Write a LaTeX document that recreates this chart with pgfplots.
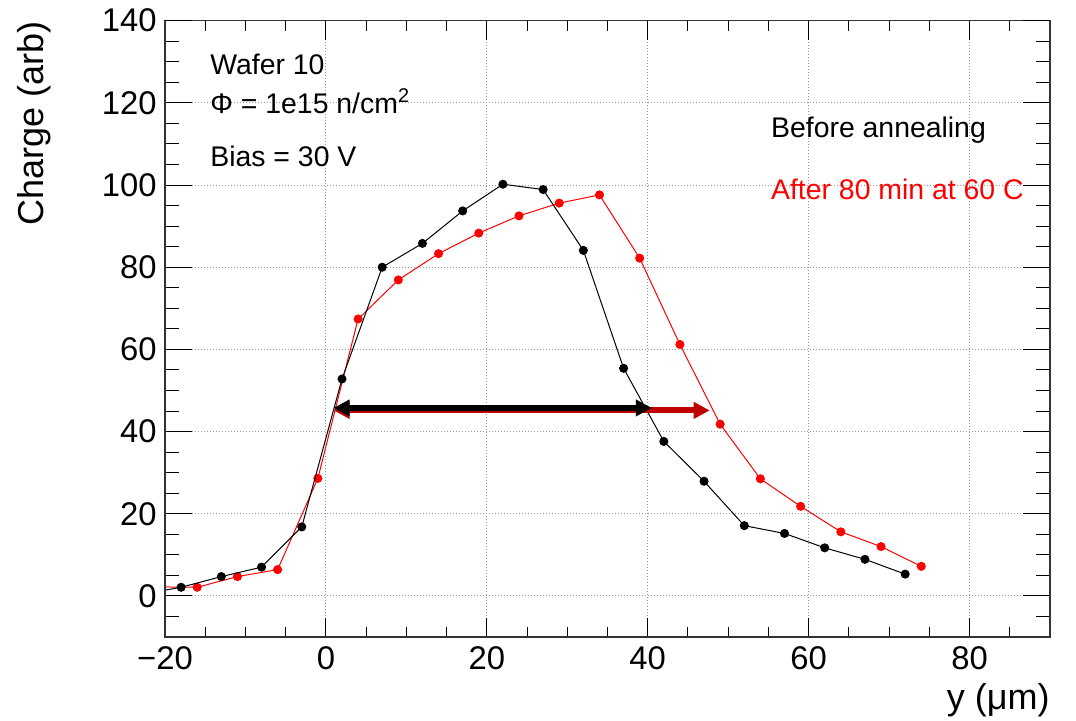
\documentclass[border=0pt]{standalone}
\usepackage{fontspec}
\setmainfont{Liberation Sans}
\usepackage{pgfplots}
\pgfplotsset{compat=1.18}
\usetikzlibrary{arrows.meta}
\definecolor{darkred}{RGB}{190,0,0}
\begin{document}
\begin{tikzpicture}
\useasboundingbox (0,0) rectangle (538pt,360.5pt);
\begin{axis}[name=ax, at={(82.5pt,42pt)}, anchor=south west,
  scale only axis, width=442.5pt, height=308.15pt,
  xmin=-20, xmax=90, ymin=-10, ymax=140,
  xtick={-20,0,20,40,60,80}, xticklabels={−20,0,20,40,60,80},
  minor xtick={-15,-10,...,85},
  ytick={0,20,...,140}, yticklabels={0,20,40,60,80,100,120,140},
  minor ytick={-5,0,...,135},
  grid=major, grid style={dash pattern=on 0.5pt off 1pt, gray!80, line width=0.5pt},
  major tick length=9.5pt, minor tick length=5pt,
  tick style={black, line width=0.5pt},
  axis line style={line width=0.6pt, black!80},
  ticklabel style={font=\fontsize{16.4}{18}\selectfont},
  xticklabel style={inner sep=0pt, yshift=-4.8pt, anchor=north},
  yticklabel style={inner sep=0pt, xshift=-4pt, anchor=east},
  clip mode=individual]
\addplot[red, line width=0.5pt, mark=*, mark size=2pt, mark options={solid, fill=red, draw=red}] coordinates {
(-21,2.2) (-16,2.1) (-11,4.7) (-6,6.4) (-1,28.6) (4,67.4) (9,76.9) (14,83.3) (19,88.3) (24,92.5) (29,95.6) (34,97.6) (39,82.2) (44,61.2) (49,41.8) (54,28.5) (59,21.8) (64,15.6) (69,12.0) (74,7.2)};
\addplot[black, line width=0.5pt, mark=*, mark size=2pt, mark options={solid, fill=black, draw=black}] coordinates {
(-23,0.35) (-18,2.1) (-13,4.7) (-8,7.0) (-3,16.8) (2,52.8) (7,80.0) (12,85.8) (17,93.7) (22,100.2) (27,98.9) (32,84.1) (37,55.4) (42,37.6) (47,27.9) (52,17.1) (57,15.2) (62,11.7) (67,8.9) (72,5.3)};
\addplot[darkred, line width=3pt, no marks, arrows={Triangle[length=8pt,width=8pt]-Triangle[length=8pt,width=8pt]}] coordinates {(0.96,45.15) (47.7,45.15)};
\addplot[black, line width=3pt, no marks, arrows={Triangle[length=8pt,width=8pt]-Triangle[length=8pt,width=8pt]}] coordinates {(0.96,45.75) (40.5,45.75)};
\node[anchor=base west, inner sep=0pt, font=\fontsize{14.2}{16}\selectfont] at (axis cs:-14.41,127.0) {Wafer 10};
\node[anchor=base west, inner sep=0pt, font=\fontsize{14.2}{16}\selectfont] at (axis cs:-14.41,117.5) {Φ = 1e15 n/cm\textsuperscript{2}};
\node[anchor=base west, inner sep=0pt, font=\fontsize{14.2}{16}\selectfont] at (axis cs:-14.41,104.4) {Bias = 30 V};
\node[anchor=base west, inner sep=0pt, font=\fontsize{14.2}{16}\selectfont] at (axis cs:55.29,111.6) {Before annealing};
\node[anchor=base west, inner sep=0pt, text=red, font=\fontsize{14.2}{16}\selectfont] at (axis cs:55.29,96.5) {After 80 min at 60 C};
\end{axis}
\begin{axis}[at={(82.5pt,42pt)}, anchor=south west,
  scale only axis, width=442.5pt, height=308.15pt,
  xmin=-20, xmax=90, ymin=-10, ymax=140,
  hide x axis,
  ytick={0,20,...,140}, yticklabels={},
  minor ytick={-5,0,...,135},
  major tick length=13.5pt, minor tick length=7pt,
  tick style={black, line width=0.5pt},
  axis line style={line width=0.6pt, black!80}]
\end{axis}
\node[rotate=90, anchor=base east, inner sep=0pt, font=\fontsize{18}{20}\selectfont] at ([xshift=-60.85pt]ax.north west) {Charge (arb)};
\node[anchor=base east, inner sep=0pt, font=\fontsize{18}{20}\selectfont] at ([yshift=-36.5pt]ax.south east) {y (μm)};
\end{tikzpicture}
\end{document}
